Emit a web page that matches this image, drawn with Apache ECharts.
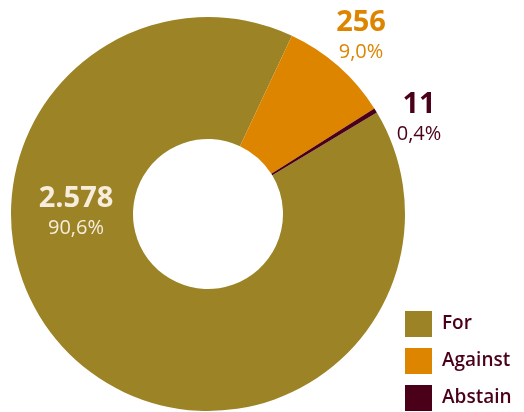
<!DOCTYPE html>
<html>
<head>
<meta charset="utf-8">
<script src="https://cdn.jsdelivr.net/npm/echarts@6/dist/echarts.min.js"></script>
<style>
  html, body { margin: 0; padding: 0; background: #ffffff; }
  #chart { width: 524px; height: 412px; }
</style>
</head>
<body>
<div id="chart"></div>
<script>
// Vote breakdown
var categories = ['For', 'Against', 'Abstain'];
var votes = [2578, 256, 11];

var colors = ['#9C8426', '#DE8500', '#4A0019'];
var labelColors = ['#F7EDDC', '#DE8500', '#4A0019'];
// label anchor points (centre of each two-line label)
var labelSpots = [[76, 213], [361, 37], [419, 119]];

var total = votes.reduce(function (a, b) { return a + b; }, 0);

function fmtCount(v) {
  return String(v).replace(/\B(?=(\d{3})+(?!\d))/g, '.');
}
function fmtPct(v) {
  return (v / total * 100).toFixed(1).replace('.', ',') + '%';
}

var FONT = '"Open Sans", sans-serif';

var data = categories.map(function (name, i) {
  return {
    name: name,
    value: votes[i],
    itemStyle: { color: colors[i] },
    label: {
      rich: {
        v: { fontFamily: FONT, fontWeight: 'bold', fontSize: 29, color: labelColors[i], lineHeight: 31, align: 'center' },
        p: { fontFamily: FONT, fontSize: 20, color: labelColors[i], lineHeight: 28, align: 'center' }
      }
    }
  };
});

var chart = echarts.init(document.getElementById('chart'), null, { renderer: 'canvas' });
chart.setOption({
  animation: false,
  backgroundColor: '#ffffff',
  color: colors,
  legend: {
    orient: 'vertical',
    left: 405,
    top: 311,
    padding: 0,
    height: 120,
    itemWidth: 27,
    itemHeight: 26,
    itemGap: 11,
    icon: 'rect',
    textStyle: { fontFamily: FONT, fontSize: 19, fontWeight: 600, color: '#4A0019', padding: [0, 0, 0, 5] },
    data: categories
  },
  series: [{
    type: 'pie',
    center: [208, 214],
    radius: [75, 197],
    startAngle: 31,
    clockwise: true,
    avoidLabelOverlap: false,
    label: {
      show: true,
      position: 'inside',
      formatter: function (p) {
        return '{v|' + fmtCount(p.value) + '}\n{p|' + fmtPct(p.value) + '}';
      }
    },
    labelLine: { show: false },
    labelLayout: function (params) {
      var s = labelSpots[params.dataIndex];
      return { x: s[0], y: s[1], align: 'center', verticalAlign: 'middle' };
    },
    emphasis: { disabled: true },
    data: data
  }]
});
</script>
</body>
</html>
